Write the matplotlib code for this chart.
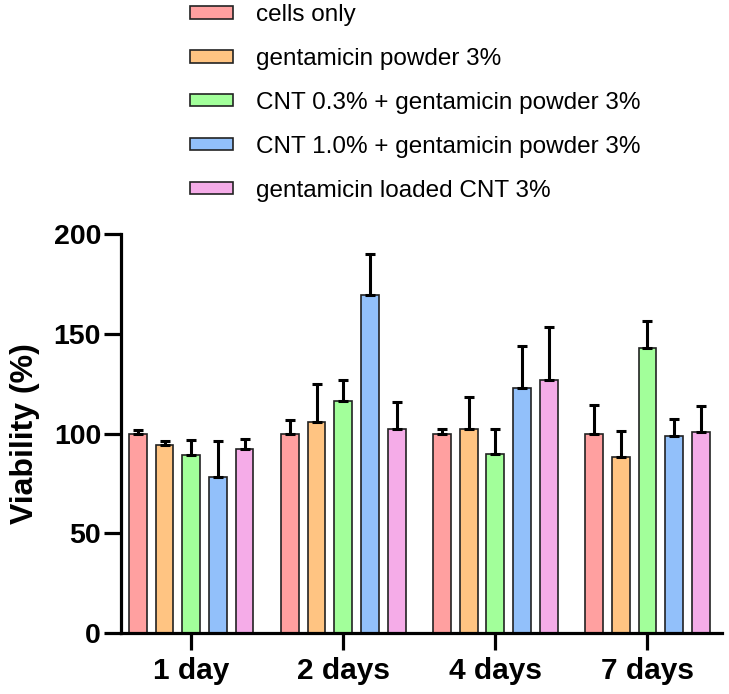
import matplotlib
matplotlib.use("Agg")
import matplotlib.pyplot as plt
import numpy as np

plt.rcParams['font.family'] = ['Liberation Sans', 'DejaVu Sans']

days = ["1 day", "2 days", "4 days", "7 days"]
series = ["cells only", "gentamicin powder 3%", "CNT 0.3% + gentamicin powder 3%",
          "CNT 1.0% + gentamicin powder 3%", "gentamicin loaded CNT 3%"]
colors = ["#FFA0A0", "#FFC482", "#A2FF9A", "#92C0FA", "#F5ACE8"]

cells_only = [100.0, 100.0, 100.0, 100.0]
gent_powder = [94.5, 105.8, 102.5, 88.3]
cnt03_gent = [89.5, 116.3, 90.0, 142.8]
cnt10_gent = [78.3, 169.6, 122.8, 99.0]
gent_loaded = [92.3, 102.4, 126.6, 101.0]

cells_only_err = [1.8, 7.0, 2.5, 14.2]
gent_powder_err = [1.9, 19.0, 16.0, 12.8]
cnt03_gent_err = [7.2, 10.3, 12.3, 13.6]
cnt10_gent_err = [18.0, 20.3, 21.3, 8.5]
gent_loaded_err = [5.0, 13.5, 26.9, 12.8]

values = [cells_only, gent_powder, cnt03_gent, cnt10_gent, gent_loaded]
errors = [cells_only_err, gent_powder_err, cnt03_gent_err, cnt10_gent_err, gent_loaded_err]

fig = plt.figure(figsize=(7.29, 6.94), dpi=100)
ax = fig.add_axes([0.1653, 0.0875, 0.825, 0.5755])

x = np.arange(len(days))
step = 0.1756
width = 0.1165
handles = []
for i, (vals, errs) in enumerate(zip(values, errors)):
    pos = x + (i - 2) * step
    b = ax.bar(pos, vals, width, color=colors[i], edgecolor="#222222", linewidth=1.2,
               label=series[i], zorder=2)
    ax.errorbar(pos, vals, yerr=[np.zeros(len(errs)), errs], fmt='none', ecolor='black',
                elinewidth=2.2, capsize=3.8, capthick=2.2, zorder=3)
    handles.append(b)

ax.set_xlim(-0.465, 3.49)
ax.set_ylim(0, 200)
ax.set_yticks([0, 50, 100, 150, 200])
ax.set_xticks(x)
ax.set_xticklabels(days, fontsize=21.5, fontweight='bold')
for lab in ax.get_yticklabels():
    lab.set_fontsize(20.5)
    lab.set_fontweight('bold')
ax.set_ylabel("Viability (%)", fontsize=23, fontweight='bold', labelpad=10)

for s in ['top', 'right']:
    ax.spines[s].set_visible(False)
for s in ['left', 'bottom']:
    ax.spines[s].set_linewidth(2.3)
ax.tick_params(axis='both', width=2.3, length=12, direction='out')
ax.tick_params(axis='x', pad=5)
ax.tick_params(axis='y', pad=2)

leg = fig.legend(handles=handles, labels=series, loc='upper left',
                 bbox_to_anchor=(0.2470, 1.008), frameon=False, fontsize=17.5,
                 handlelength=1.77, handleheight=0.41, handletextpad=0.97,
                 labelspacing=0.9, borderaxespad=0)

fig.savefig("out.png", dpi=100)
